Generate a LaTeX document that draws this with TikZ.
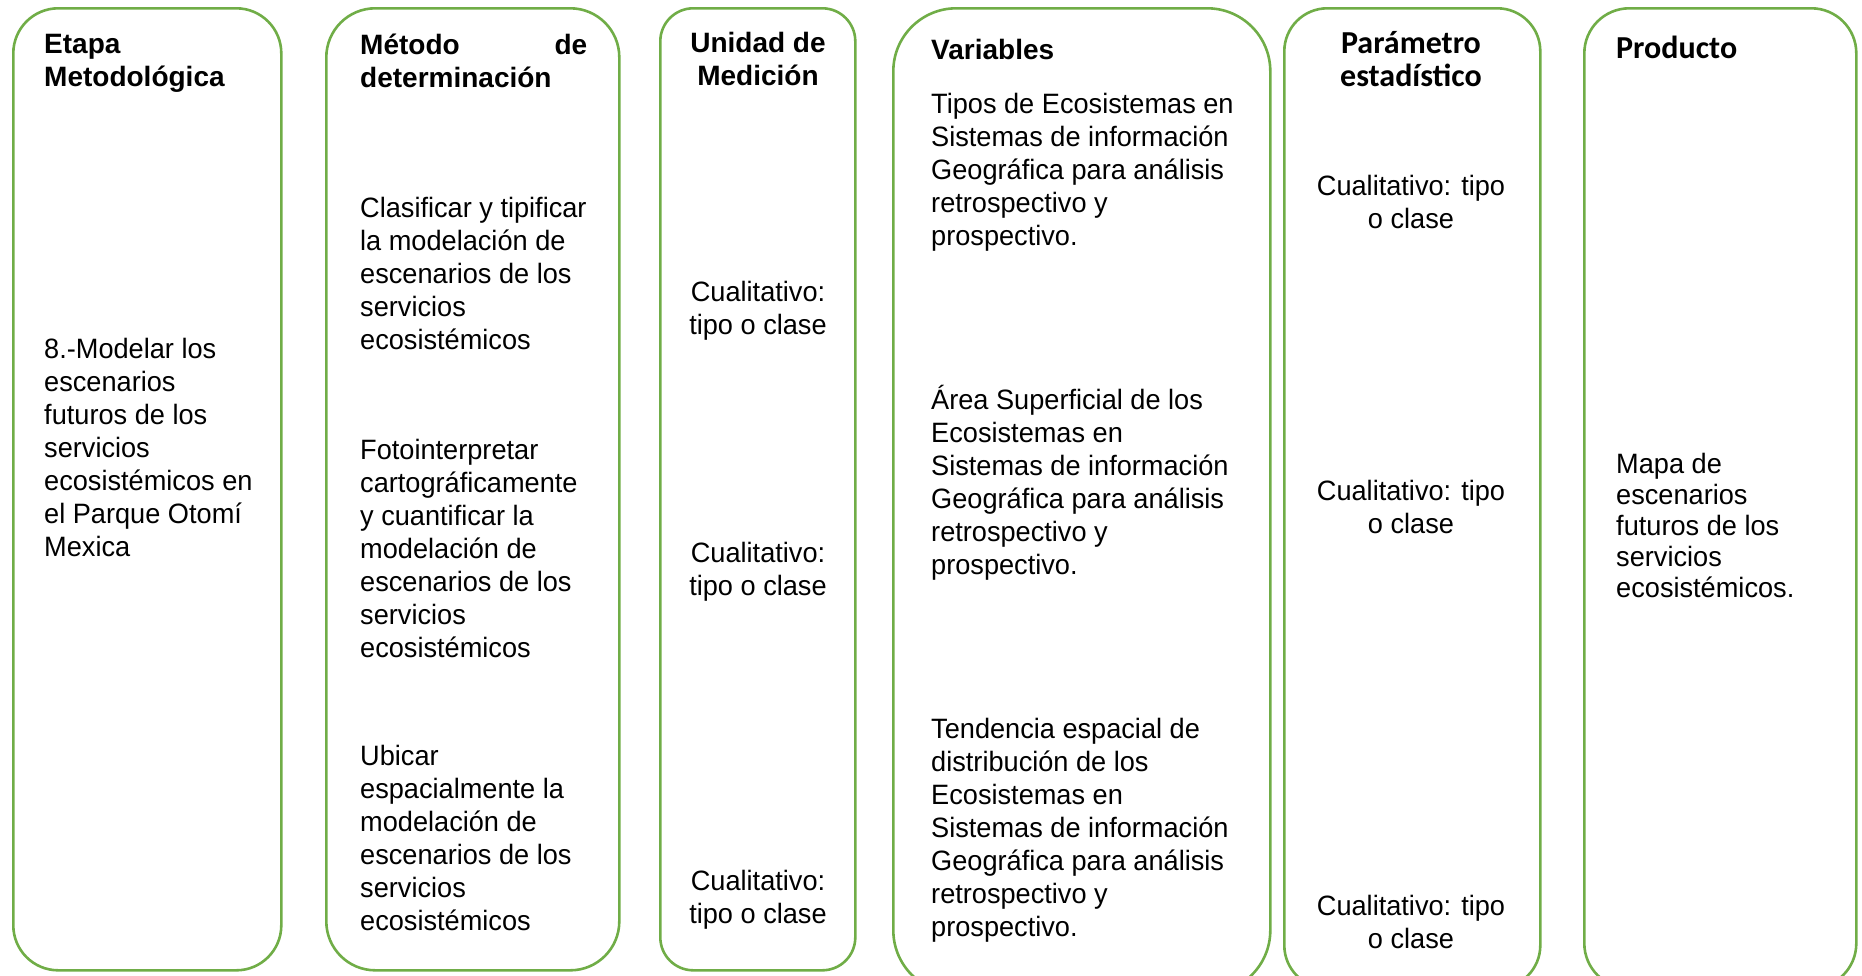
\documentclass[tikz,border=0pt]{standalone}
\usepackage{fontspec}
\setmainfont{Liberation Sans}
\newfontfamily\bodyf[FakeStretch=0.97]{Liberation Sans}
\newfontfamily\calib{Carlito}
\definecolor{boxgreen}{RGB}{112,173,71}
\begin{document}
\begin{tikzpicture}[x=1pt,y=-1pt,
  colbox/.style={draw=boxgreen, line width=2.6pt, rectangle, inner sep=0pt, anchor=north west},
  head/.style={font=\bfseries\fontsize{28}{33}\selectfont, inner sep=0pt, anchor=base west, align=left},
  headc/.style={font=\bfseries\fontsize{28}{33}\selectfont, inner sep=0pt, anchor=base, align=center},
  calhead/.style={font=\calib\bfseries\fontsize{32}{33}\selectfont, inner sep=0pt, align=center},
  body/.style={font=\bodyf\fontsize{28}{33}\selectfont, inner sep=0pt, anchor=base west, align=left},
  bodyc/.style={font=\bodyf\fontsize{28}{33}\selectfont, inner sep=0pt, anchor=base, align=center}]
\useasboundingbox (0,0) rectangle (1862,975);
\clip (0,0) rectangle (1862,975);
% column boxes
\node[colbox, rounded corners=45pt, minimum width=268pt, minimum height=962pt] (b1) at (12,7) {};
\node[colbox, rounded corners=49pt, minimum width=293pt, minimum height=962pt] (b2) at (325,7) {};
\node[colbox, rounded corners=33pt, minimum width=195pt, minimum height=962pt] (b3) at (659,7) {};
\node[colbox, rounded corners=63pt, minimum width=377pt, minimum height=985pt] (b4) at (892,7) {};
\node[colbox, rounded corners=43pt, minimum width=256pt, minimum height=980pt] (b5) at (1283,7) {};
\node[colbox, rounded corners=45pt, minimum width=272pt, minimum height=980pt] (b6) at (1583,7) {};
% column 1 (base anchor = baseline of last line)
\node[head] (h1) at (44,86) {Etapa\\Metodológica};
\node[body] (t1) at (44,556) {8.-Modelar los\\escenarios\\futuros de los\\servicios\\ecosistémicos en\\el Parque Otomí\\Mexica};
% column 2
\node[head] (h2) at (360,87) {\makebox[227pt][l]{Método\hfill de}\\determinación};
\node[body] (t2a) at (360,349) {Clasificar y tipificar\\la modelación de\\escenarios de los\\servicios\\ecosistémicos};
\node[body] (t2b) at (360,657) {Fotointerpretar\\cartográficamente\\y cuantificar la\\modelación de\\escenarios de los\\servicios\\ecosistémicos};
\node[body] (t2c) at (360,930) {Ubicar\\espacialmente la\\modelación de\\escenarios de los\\servicios\\ecosistémicos};
% column 3
\node[headc] (h3) at (758,85) {Unidad de\\Medición};
\node[bodyc] (t3a) at (758,334) {Cualitativo:\\tipo o clase};
\node[bodyc] (t3b) at (758,595) {Cualitativo:\\tipo o clase};
\node[bodyc] (t3c) at (758,923) {Cualitativo:\\tipo o clase};
% column 4
\node[head] (h4) at (931,59) {Variables};
\node[body] (t4a) at (931,245) {Tipos de Ecosistemas en\\Sistemas de información\\Geográfica para análisis\\retrospectivo y\\prospectivo.};
\node[body] (t4b) at (931,574) {Área Superficial de los\\Ecosistemas en\\Sistemas de información\\Geográfica para análisis\\retrospectivo y\\prospectivo.};
\node[body] (t4c) at (931,936) {Tendencia espacial de\\distribución de los\\Ecosistemas en\\Sistemas de información\\Geográfica para análisis\\retrospectivo y\\prospectivo.};
% column 5
\node[calhead, anchor=base] (h5) at (1411,86) {Parámetro\\estadístico};
\node[bodyc] (t5a) at (1411,228) {Cualitativo: tipo\\o clase};
\node[bodyc] (t5b) at (1411,533) {Cualitativo: tipo\\o clase};
\node[bodyc] (t5c) at (1411,948) {Cualitativo: tipo\\o clase};
% column 6
\node[calhead, anchor=base west] (h6) at (1616,58) {Producto};
\node[body, font=\bodyf\fontsize{28}{31}\selectfont] (t6) at (1616,597) {Mapa de\\escenarios\\futuros de los\\servicios\\ecosistémicos.};
\end{tikzpicture}
\end{document}
